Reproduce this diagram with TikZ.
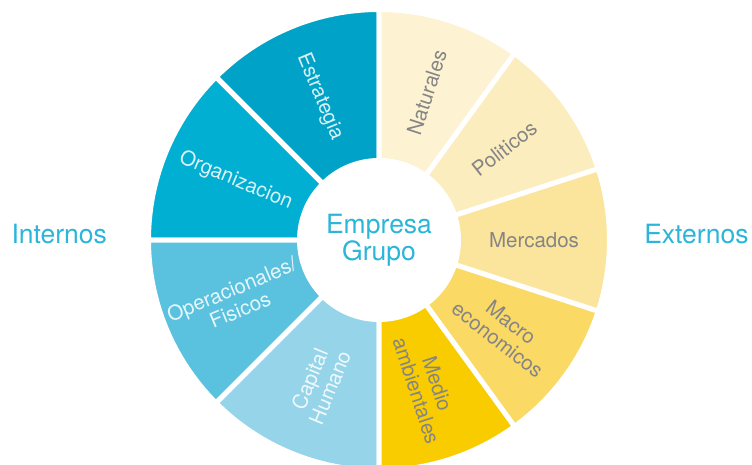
\documentclass[tikz,border=0pt]{standalone}
\usepackage{fontspec}
\setmainfont{TeX Gyre Heros}
\usepackage{xcolor}
\usetikzlibrary{positioning}

\definecolor{azulA}{HTML}{00A3C7}
\definecolor{azulB}{HTML}{00AFD2}
\definecolor{azulC}{HTML}{5AC2DE}
\definecolor{azulD}{HTML}{95D4E9}
\definecolor{amaA}{HTML}{FDF3D3}
\definecolor{amaB}{HTML}{FCEDBF}
\definecolor{amaC}{HTML}{FBE49B}
\definecolor{amaD}{HTML}{FBD965}
\definecolor{amaE}{HTML}{F9CC00}
\definecolor{cian}{HTML}{2BB5D8}
\definecolor{grisT}{HTML}{858585}

\begin{document}
\begin{tikzpicture}[x=1pt, y=1pt,
    seg/.style={draw=white, line width=5pt},
    lblin/.style={text=white, text opacity=0.85, font=\fontsize{20.5}{22}\selectfont, align=center},
    lblout/.style={text=grisT, font=\fontsize{20.5}{22}\selectfont, align=center},
    side/.style={text=cian, font=\fontsize{26.5}{27}\selectfont, align=center}]
    \useasboundingbox (0,0) rectangle (752,-465);
    \clip (0,0) rectangle (752,-465);
    \coordinate (c) at (379,-240);

    \begin{scope}[shift={(c)}]
    % Segments (internos)
    \fill[seg, fill=azulA] (90:230.5pt) arc (90:135:230.5pt) -- (135:79.5pt) arc (135:90:79.5pt) -- cycle;
    \fill[seg, fill=azulB] (135:230.5pt) arc (135:180:230.5pt) -- (180:79.5pt) arc (180:135:79.5pt) -- cycle;
    \fill[seg, fill=azulC] (180:230.5pt) arc (180:225:230.5pt) -- (225:79.5pt) arc (225:180:79.5pt) -- cycle;
    \fill[seg, fill=azulD] (225:230.5pt) arc (225:270:230.5pt) -- (270:79.5pt) arc (270:225:79.5pt) -- cycle;
    % Segments (externos)
    \fill[seg, fill=amaA] (90:230.5pt) arc (90:54:230.5pt) -- (54:79.5pt) arc (54:90:79.5pt) -- cycle;
    \fill[seg, fill=amaB] (54:230.5pt) arc (54:18:230.5pt) -- (18:79.5pt) arc (18:54:79.5pt) -- cycle;
    \fill[seg, fill=amaC] (18:230.5pt) arc (18:-18:230.5pt) -- (-18:79.5pt) arc (-18:18:79.5pt) -- cycle;
    \fill[seg, fill=amaD] (-18:230.5pt) arc (-18:-54:230.5pt) -- (-54:79.5pt) arc (-54:-18:79.5pt) -- cycle;
    \fill[seg, fill=amaE] (-54:230.5pt) arc (-54:-90:230.5pt) -- (-90:79.5pt) arc (-90:-54:79.5pt) -- cycle;

    % Labels
    \node[lblin, rotate=-67.5] (estrategia) at (112.5:155pt) {Estrategia};
    \node[lblin, rotate=-22.5] (organizacion) at (157.5:155pt) {Organizacion};
    \node[lblin, rotate=22.5] (operacionales) at (202.5:155pt) {Operacionales/\\Fisicos};
    \node[lblin, rotate=67.5] (capital) at (247.5:155pt) {Capital\\Humano};
    \node[lblout, rotate=72] (naturales) at (72:155pt) {Naturales};
    \node[lblout, rotate=38] (politicos) at (36:155pt) {Politicos};
    \node[lblout] (mercados) at (0:155pt) {Mercados};
    \node[lblout, rotate=-38] (macro) at (-36:155pt) {Macro\\economicos};
    \node[lblout, rotate=-72] (medio) at (-72:155pt) {Medio\\ambientales};
    \end{scope}

    % Center and sides
    \node[side] (empresa) at (c) {Empresa\\Grupo};
    \node[side, anchor=west] (internos) at (8,-234) {Internos};
    \node[side, anchor=east] (externos) at (752,-234) {Externos};
\end{tikzpicture}
\end{document}
